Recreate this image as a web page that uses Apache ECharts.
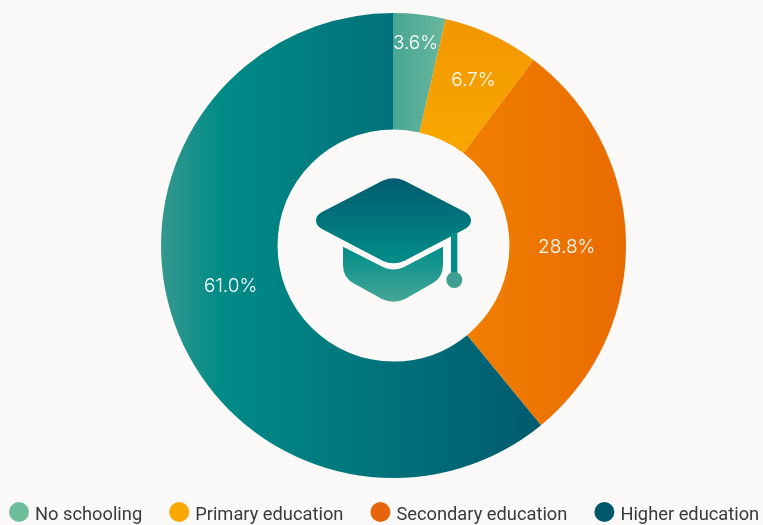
<!DOCTYPE html>
<html>
<head>
<meta charset="utf-8">
<style>
  html, body { margin: 0; padding: 0; background: #faf9f7; }
  #chart { width: 763px; height: 525px; }
</style>
<script src="https://cdn.jsdelivr.net/npm/echarts@6/dist/echarts.min.js"></script>
</head>
<body>
<div id="chart"></div>
<script>
var categories = ['No schooling', 'Primary education', 'Secondary education', 'Higher education'];
var shares = [3.6, 6.7, 28.8, 61.0];
var legendColors = ['#6dbf9c', '#f9a800', '#e8640c', '#00566b'];

function grad(x, y, x2, y2, stops) {
  return new echarts.graphic.LinearGradient(x, y, x2, y2, stops.map(function (c) {
    return { offset: c[0], color: c[1] };
  }));
}

var sliceColors = [
  grad(0, 0, 1, 0, [[0, '#4aa695'], [1, '#68b79c']]),
  grad(0, 0, 0, 1, [[0, '#f29600'], [1, '#f9a800']]),
  grad(0, 0, 1, 0, [[0, '#f07f00'], [1, '#e96b00']]),
  grad(0, 0, 1, 0, [[0, '#35988e'], [0.16, '#008b87'], [1, '#005a6e']])
];
var labelOffsets = [[2, -26], [5, -5], [-4, 5], [4, -19]];

// graduation cap icon, no path type in graphic so register the shapes
echarts.graphic.registerShape('capTop', echarts.graphic.extendPath(
  'M383 180.5 Q393.5 176 404 180.5 L465 212 Q471 215 471 220.5 Q471 226 465 229 L404 261 Q393.5 265.5 383 261 L322 229 Q316 226 316 220.5 Q316 215 322 212 Z', {}));
echarts.graphic.registerShape('capBase', echarts.graphic.extendPath(
  'M343 246.7 L384 267.5 Q393.5 271.5 403 267.5 L443 246.7 L443 265 Q443 277 433 283 L405 299 Q393.5 304.5 382 299 L353 283 Q343 277 343 265 Z', {}));

var capTop = grad(0, 0, 0, 1, [[0, '#005c6f'], [1, '#008d89']]);
var capBase = grad(0, 0, 0, 1, [[0, '#008d89'], [1, '#45a696']]);

var chart = echarts.init(document.getElementById('chart'));
chart.setOption({
  animation: false,
  backgroundColor: '#faf9f7',
  legend: {
    left: 9,
    top: 502,
    width: 800,
    padding: 0,
    itemGap: 27,
    itemWidth: 20,
    itemHeight: 20,
    icon: 'circle',
    selectedMode: false,
    formatter: '{t|{name}}',
    textStyle: {
      rich: {
        t: { fontFamily: 'Roboto', fontSize: 18.3, color: '#3a3a3a', padding: [6, 0, 0, 1] }
      }
    },
    data: categories.map(function (c, i) {
      return { name: c, itemStyle: { color: legendColors[i] } };
    })
  },
  series: [{
    type: 'pie',
    center: [393.5, 245.5],
    radius: [116, 232.5],
    startAngle: 90,
    clockwise: true,
    silent: true,
    itemStyle: { borderWidth: 0 },
    labelLine: { show: false },
    label: {
      show: true,
      position: 'inside',
      fontFamily: 'Inter',
      fontSize: 19,
      fontWeight: 300,
      color: '#ffffff',
      formatter: function (p) { return p.value.toFixed(1) + '%'; }
    },
    data: categories.map(function (c, i) {
      return {
        name: c,
        value: shares[i],
        itemStyle: { color: sliceColors[i] },
        label: { offset: labelOffsets[i] }
      };
    })
  }],
  graphic: [
    { type: 'capTop', style: { fill: capTop } },
    { type: 'capBase', style: { fill: capBase } },
    { type: 'rect', shape: { x: 451, y: 233, width: 6.3, height: 42 }, style: { fill: '#008d89' } },
    { type: 'circle', shape: { cx: 454.3, cy: 280, r: 8 }, style: { fill: '#3f9f92' } }
  ]
});
</script>
</body>
</html>
